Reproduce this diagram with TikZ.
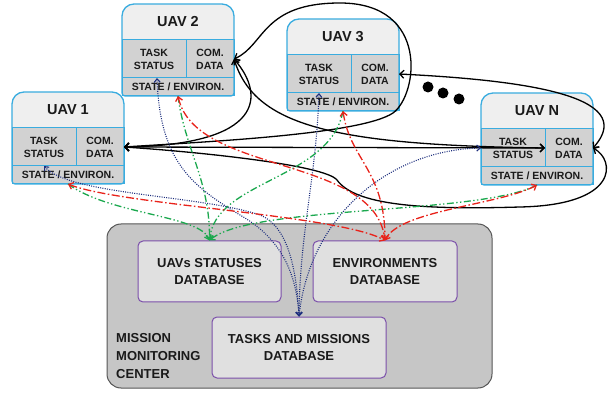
\documentclass[tikz,border=0pt]{standalone}
\usepackage{fontspec}
\setmainfont{Liberation Sans}
\usetikzlibrary{arrows.meta}
\definecolor{uavblue}{HTML}{3AACDF}
\definecolor{titlefill}{HTML}{EFEFEF}
\definecolor{cellgray}{HTML}{D2D2D2}
\definecolor{centerfill}{HTML}{C6C6C6}
\definecolor{centerline}{HTML}{555555}
\definecolor{dbfill}{HTML}{E0E0E0}
\definecolor{dbline}{HTML}{7B4FAA}
\definecolor{grn}{HTML}{1BA84E}
\definecolor{rd}{HTML}{E8231B}
\definecolor{nav}{HTML}{1E2F7E}
\definecolor{txt}{HTML}{1A1A1A}
\tikzset{
 uavshape/.style={rectangle, inner sep=0pt, outer sep=0pt, minimum width=112pt, minimum height=92pt},
 uavtitle/.style={rectangle, inner sep=0pt, outer sep=0pt, minimum width=112pt, minimum height=36pt, font=\bfseries\fontsize{14.5}{16}\selectfont, text=txt},
 cell/.style={rectangle, inner sep=0pt, outer sep=0pt, draw=uavblue, line width=1pt, fill=cellgray, align=center, text=txt, font=\bfseries\fontsize{10.5}{13}\selectfont},
 tscell/.style={cell, minimum width=64pt, minimum height=38pt},
 cdcell/.style={cell, minimum width=48pt, minimum height=38pt},
 stcell/.style={cell, minimum width=112pt, minimum height=18pt},
 uavborder/.style={draw=uavblue, line width=1.3pt},
 centerbox/.style={rectangle, draw=centerline, line width=1pt, fill=centerfill, rounded corners=14pt, minimum width=385pt, minimum height=164pt, inner sep=0pt},
 dbbox/.style={rectangle, draw=dbline, line width=1pt, fill=dbfill, rounded corners=5pt, minimum height=61pt, inner sep=0pt, align=center, text=txt, font=\bfseries\fontsize{13}{17.5}\selectfont},
 mmclabel/.style={align=left, inner sep=0pt, text=txt, font=\bfseries\fontsize{13}{18}\selectfont},
 blk/.style={draw=black, line width=1.3pt, {Straight Barb[length=4pt,width=8pt]}-{Straight Barb[length=4pt,width=8pt]}},
 navline/.style={draw=nav, line width=1.1pt, dash pattern=on 1pt off 1.3pt, {Straight Barb[length=3.5pt,width=6pt]}-{Straight Barb[length=3.5pt,width=6pt]}},
 grnline/.style={draw=grn, line width=1.3pt, dash pattern=on 7pt off 2.5pt on 1.3pt off 2.5pt on 1.3pt off 2.5pt, -{Straight Barb[length=4pt,width=7pt]}},
 rdline/.style={draw=rd, line width=1.3pt, dash pattern=on 8pt off 2.5pt on 1.5pt off 2.5pt, {Straight Barb[length=4pt,width=7pt]}-{Straight Barb[length=4pt,width=7pt]}},
 dotmark/.style={circle, fill=black, inner sep=0pt, minimum size=11pt}
}
\newcommand{\uavbox}[4]{%
  \node[uavshape, anchor=north west] (#1) at (#2,#3) {};
  \fill[titlefill] (#1.west) [rounded corners=12pt] -- (#1.north west) -- (#1.north east) -- (#1.east) [rounded corners=3pt] -- (#1.south east) -- (#1.south west) -- cycle;
  \node[uavtitle, anchor=north west] (#1t) at (#1.north west) {#4};
  \node[tscell, anchor=north west] (#1ts) at (#1t.south west) {TASK\\STATUS};
  \node[cdcell, anchor=north west] (#1cd) at (#1ts.north east) {COM.\\DATA};
  \node[stcell, anchor=north west] (#1st) at (#1ts.south west) {STATE / ENVIRON.};
  \draw[uavborder] (#1.west) [rounded corners=12pt] -- (#1.north west) -- (#1.north east) -- (#1.east) [rounded corners=3pt] -- (#1.south east) -- (#1.south west) -- cycle;
}
\begin{document}
\begin{tikzpicture}[x=1pt, y=-1pt]
\useasboundingbox (0,0) rectangle (614,393);
% mission monitoring center
\node[centerbox] (mmc) at (299.5,306) {};
\node[dbbox, minimum width=143pt] (db1) at (209.5,271.5) {UAVs STATUSES\\DATABASE};
\node[dbbox, minimum width=144pt] (db2) at (385,271.5) {ENVIRONMENTS\\DATABASE};
\node[dbbox, minimum width=174pt] (db3) at (299,347.5) {TASKS AND MISSIONS\\DATABASE};
\node[mmclabel, anchor=west] (mmctext) at (116,356) {MISSION\\MONITORING\\CENTER};
% UAVs
\uavbox{u1}{12}{92}{UAV 1}
\uavbox{u2}{122}{4}{UAV 2}
\uavbox{u3}{287}{19}{UAV 3}
\uavbox{un}{481}{93}{UAV N}
\node[dotmark] (d1) at (428,87) {};
\node[dotmark] (d2) at (443,93) {};
\node[dotmark] (d3) at (459,99) {};
% black communication links
\draw[blk] (u1cd.east) -- (uncd.west);
\draw[blk] (u2cd.east) .. controls (265,95) and (265,145) .. (u1cd.east);
\draw[blk] (u2cd.east) .. controls (255,125) and (330,145) .. (uncd.west);
\draw[blk] (u2cd.east) .. controls (265,45) and (262,3) .. (340,3) .. controls (430,3) and (418,95) .. (393,113) .. controls (360,135) and (200,142) .. (u1cd.east);
\draw[blk] (u3cd.east) .. controls (520,80) and (640,95) .. (uncd.east);
\draw[blk] (uncd.east) .. controls (615,160) and (620,205) .. (520,207) .. controls (420,210) and (355,205) .. (337,180) .. controls (325,165) and (200,152) .. (u1cd.east);
% tasks (navy dotted)
\draw[navline] (u1ts.south) .. controls (70,195) and (200,195) .. (260,215) .. controls (285,225) and (296,260) .. (db3.north);
\draw[navline] ([xshift=3pt]u2ts.south) .. controls (160,160) and (190,185) .. (240,215) .. controls (275,235) and (296,265) .. (db3.north);
\draw[navline] (u3ts.south) .. controls (316,180) and (300,230) .. (db3.north);
\draw[navline] (unts.west) .. controls (390,150) and (310,215) .. (db3.north);
% statuses (green)
\draw[grnline] (u1st.south) .. controls (110,215) and (200,215) .. (db1.north);
\draw[grnline] (u2st.south) .. controls (185,150) and (210,180) .. (db1.north);
\draw[grnline] (u3st.south) .. controls (330,180) and (215,180) .. (db1.north);
\draw[grnline] (unst.south) .. controls (480,215) and (250,205) .. (db1.north);
% environments (red)
\draw[rdline] (u1st.south) .. controls (120,205) and (340,215) .. (db2.north);
\draw[rdline] (u2st.south) .. controls (195,175) and (375,155) .. (db2.north);
\draw[rdline] (u3st.south) .. controls (350,160) and (385,170) .. (db2.north);
\draw[rdline] (unst.south) .. controls (500,205) and (400,210) .. (db2.north);
\end{tikzpicture}
\end{document}
